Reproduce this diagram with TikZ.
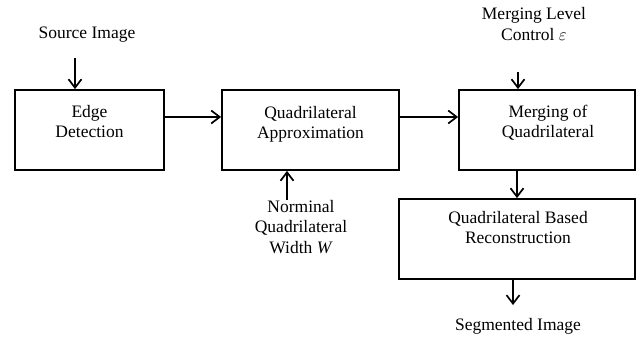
\documentclass[tikz,border=0pt]{standalone}
\usepackage{fontspec}
\setmainfont{Liberation Serif}
\usetikzlibrary{arrows.meta}
\newcommand{\mlines}[1]{\begin{tabular}[t]{@{}c@{}}#1\end{tabular}}
\begin{document}
\begin{tikzpicture}[x=1pt,y=-1pt,
  blk/.style={draw, line width=1.8pt, rectangle, minimum height=80pt, inner sep=0pt},
  lbl/.style={anchor=base, inner sep=0pt, font=\fontsize{17.5}{20.5}\selectfont},
  arr/.style={line width=1.7pt, -{Straight Barb[length=8.5pt,width=13pt,line width=1.7pt]}}]
\useasboundingbox (0,0) rectangle (636,337);
% boxes
\node[blk, minimum width=149pt] (b1) at (89.5,130) {};
\node[blk, minimum width=177pt] (b2) at (310.5,130) {};
\node[blk, minimum width=176pt] (b3) at (547,130) {};
\node[blk, minimum width=236pt] (b4) at (517,239) {};
% box texts
\node[lbl] (t1) at (89.5,117) {\mlines{Edge\\Detection}};
\node[lbl] (t2) at (310.5,118) {\mlines{Quadrilateral\\Approximation}};
\node[lbl] (t3) at (548,117) {\mlines{Merging of\\Quadrilateral}};
\node[lbl] (t4) at (518,223) {\mlines{Quadrilateral Based\\Reconstruction}};
% outer labels
\node[lbl] (src) at (87,39) {Source Image};
\node[lbl] (eps) at (534,20) {\mlines{Merging Level\\Control $\varepsilon$}};
\node[lbl] (wid) at (301,212) {\mlines{Norminal\\Quadrilateral\\Width \textit{W}}};
\node[lbl] (seg) at (518,330) {Segmented Image};
% arrow ends
\coordinate (s1) at (75,58);
\coordinate (e1) at (518,72);
\coordinate (w1) at (287,200);
\coordinate (g1) at (513,305);
% connectors
\draw[arr] (s1) -- (s1 |- b1.north);
\draw[arr] ([yshift=13pt]b1.east) -- ([yshift=13pt]b2.west);
\draw[arr] ([yshift=13pt]b2.east) -- ([yshift=13pt]b3.west);
\draw[arr] (e1) -- (e1 |- b3.north);
\draw[arr] (w1) -- (w1 |- b2.south);
\draw[arr] (b3.south -| b4.north) -- (b4.north);
\draw[arr] (g1 |- b4.south) -- (g1);
\end{tikzpicture}
\end{document}
